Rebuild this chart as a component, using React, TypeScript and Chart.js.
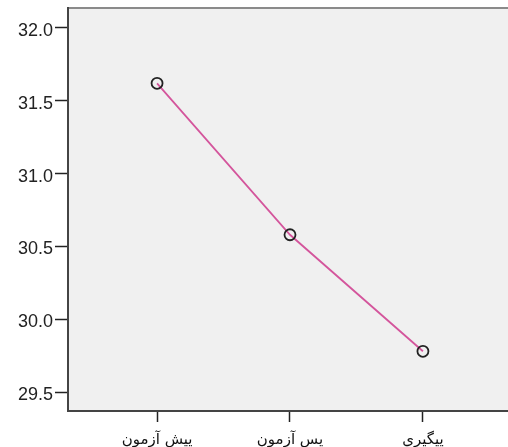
import React, { useEffect, useRef } from "react";
import { Chart, registerables } from "chart.js";
Chart.register(...registerables);

const categories = ["پیش آزمون", "پس آزمون", "پیگیری"];
const values = [31.62, 30.58, 29.78];
const yTicks = [29.5, 30.0, 30.5, 31.0, 31.5, 32.0];

const bgPlugin = {
  id: "bgPlugin",
  beforeDraw(chart: any) {
    const { ctx, chartArea } = chart;
    ctx.save();
    ctx.fillStyle = "#f0f0f0";
    ctx.fillRect(chartArea.left, chartArea.top, chartArea.right - chartArea.left, chartArea.bottom - chartArea.top);
    ctx.strokeStyle = "#8a8a8a";
    ctx.lineWidth = 2;
    ctx.beginPath();
    ctx.moveTo(chartArea.left, chartArea.top);
    ctx.lineTo(chartArea.right, chartArea.top);
    ctx.stroke();
    ctx.restore();
  },
};

export default function App() {
  const ref = useRef<HTMLCanvasElement>(null);
  useEffect(() => {
    document.body.style.margin = "0";
    const chart = new Chart(ref.current!, {
      type: "line",
      data: {
        datasets: [
          {
            data: values.map((v, i) => ({ x: i, y: v })),
            borderColor: "#d4559c",
            borderWidth: 1.8,
            pointRadius: 5.5,
            pointBorderColor: "#222",
            pointBackgroundColor: "rgba(0,0,0,0)",
            pointBorderWidth: 1.8,
            tension: 0,
          },
        ],
      },
      options: {
        animation: false,
        responsive: false,
        layout: { autoPadding: false, padding: { top: 8, right: 0, left: 0, bottom: 0 } },
        plugins: { legend: { display: false }, tooltip: { enabled: false } },
        scales: {
          x: {
            type: "linear",
            min: -0.67,
            max: 2.64,
            afterBuildTicks: (s: any) => {
              s.ticks = categories.map((_, i) => ({ value: i }));
            },
            afterFit: (s: any) => {
              s.height = 36;
              s.paddingLeft = 0;
              s.paddingRight = 0;
            },
            ticks: {
              callback: (v: any) => categories[v] ?? "",
              color: "#111",
              font: { family: "DejaVu Sans", size: 15 },
              padding: 9,
              maxRotation: 0,
              autoSkip: false,
            },
            grid: { drawOnChartArea: false, tickLength: 11, color: "#222", tickWidth: 1.5 },
            border: { color: "#444", width: 2 },
          },
          y: {
            min: 29.37,
            max: 32.137,
            afterBuildTicks: (s: any) => {
              s.ticks = yTicks.map((v) => ({ value: v }));
            },
            afterFit: (s: any) => {
              s.width = 68;
              s.paddingTop = 0;
              s.paddingBottom = 0;
            },
            ticks: {
              callback: (v: any) => Number(v).toFixed(1),
              color: "#222",
              font: { family: "Liberation Sans", size: 18 },
              padding: 2,
              labelOffset: 3,
            },
            grid: { drawOnChartArea: false, tickLength: 13, color: "#222", tickWidth: 1.5 },
            border: { color: "#444", width: 2 },
          },
        },
      },
      plugins: [bgPlugin],
    });
    return () => chart.destroy();
  }, []);
  return <canvas ref={ref} width={508} height={447} style={{ display: "block" }} />;
}
